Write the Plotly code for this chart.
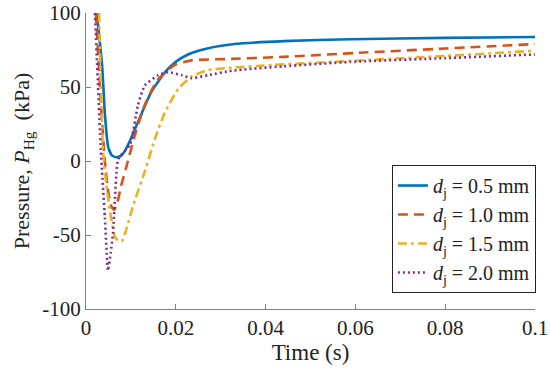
import plotly.graph_objects as go

# ---- data ----
t_05 = [0.0024, 0.0036, 0.0042, 0.0049, 0.0057, 0.0067, 0.0078, 0.0087, 0.0100, 0.0116,
        0.0146, 0.0176, 0.0200, 0.0227, 0.0270, 0.0330, 0.0440, 0.0590, 0.0800, 0.1000]
p_05 = [100, 64, 32, 10, 4, 2.5, 3.5, 7, 15, 26.5, 47, 60, 67, 72, 76, 79, 81, 82.3, 83.2, 83.8]

t_10 = [0.0022, 0.0033, 0.0042, 0.0050, 0.0057, 0.0063, 0.0070, 0.0078, 0.0091, 0.0109,
        0.0131, 0.0160, 0.0198, 0.0235, 0.0325, 0.0450, 0.0600, 0.0800, 0.1000]
p_10 = [100, 40, 0, -22, -31, -33, -28, -17, -2.7, 17.6, 38, 55, 65, 68, 69, 70.5, 73, 76, 79]

t_15 = [0.0029, 0.0038, 0.0045, 0.0053, 0.0064, 0.0072, 0.0080, 0.0090, 0.0105, 0.0131,
        0.0154, 0.0176, 0.0206, 0.0235, 0.0272, 0.0325, 0.0420, 0.0550, 0.0800, 0.1000]
p_15 = [100, 7, -15, -33, -51, -54, -54, -46, -30, -7, 15.5, 33, 49, 57, 61.5, 63, 65, 67, 71, 74.5]

t_20 = [0.0020, 0.0033, 0.0042, 0.0049, 0.0055, 0.0060, 0.0071, 0.0078, 0.0098, 0.0116,
        0.0131, 0.0161, 0.0183, 0.0213, 0.0235, 0.0272, 0.0325, 0.0440, 0.0590, 0.0800, 0.1000]
p_20 = [100, 7, -38, -74, -62, -49, 0.7, 4, 11, 38, 51, 58, 60, 58, 56, 58, 61, 64, 67, 69.5, 72]

labels = ["<i>d</i><sub>j</sub> = 0.5 mm", "<i>d</i><sub>j</sub> = 1.0 mm",
          "<i>d</i><sub>j</sub> = 1.5 mm", "<i>d</i><sub>j</sub> = 2.0 mm"]

x_ticks = [0, 0.02, 0.04, 0.06, 0.08, 0.1]
x_ticktext = ["0", "0.02", "0.04", "0.06", "0.08", "0.1"]
y_ticks = [-100, -50, 0, 50, 100]
y_ticktext = ["-100", "-50", "0", "50", "100"]

colors = ["#0072BD", "#D95319", "#EDB120", "#7E2F8E"]
dashes = ["solid", "10px,6px", "9px,4px,3px,4px", "2px,3px"]

FONT = "Liberation Serif"

fig = go.Figure()
for t, p, lab, c, d in zip([t_05, t_10, t_15, t_20], [p_05, p_10, p_15, p_20],
                           labels, colors, dashes):
    fig.add_trace(go.Scatter(x=t, y=p, mode="lines", name=lab,
                             line=dict(color=c, width=2.6, dash=d, shape="spline",
                                       smoothing=0.5)))

fig.update_layout(
    width=550, height=372,
    margin=dict(l=86, r=15, t=13, b=63, autoexpand=False),
    paper_bgcolor="white", plot_bgcolor="white",
    font=dict(family=FONT, size=20, color="#222222"),
    showlegend=True,
    legend=dict(x=1.002, xanchor="right", y=0.054, yanchor="bottom",
                bordercolor="#222222", borderwidth=1, bgcolor="white",
                font=dict(family=FONT, size=20), tracegroupgap=0),
)
fig.update_xaxes(range=[0, 0.1], tickvals=x_ticks, ticktext=x_ticktext,
                 showline=True, linecolor="#808080", linewidth=1,
                 ticks="inside", ticklen=5, tickcolor="#808080",
                 showgrid=False, zeroline=False, automargin=False,
                 title=dict(text="Time (s)", font=dict(family=FONT, size=23), standoff=2),
                 tickfont=dict(family=FONT, size=21))
fig.update_yaxes(range=[-100, 100], tickvals=y_ticks, ticktext=y_ticktext,
                 showline=True, linecolor="#808080", linewidth=1,
                 ticks="inside", ticklen=5, tickcolor="#808080",
                 showgrid=False, zeroline=False, automargin=False,
                 title=dict(text="Pressure, <i>P</i><sub>Hg</sub>  (kPa)",
                            font=dict(family=FONT, size=22), standoff=6),
                 tickfont=dict(family=FONT, size=21))

fig.write_html("out.html", config={"displayModeBar": False},
               post_script="document.body.style.margin='0';document.body.style.padding='0';")
